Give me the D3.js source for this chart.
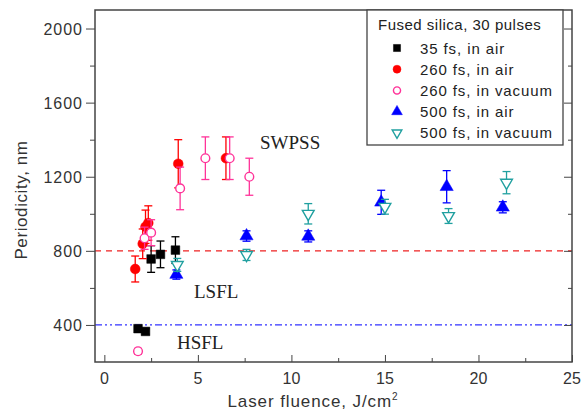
<!DOCTYPE html>
<html>
<head>
<meta charset="utf-8">
<script src="https://cdn.jsdelivr.net/npm/d3@7"></script>
<style>
    body { margin: 0; background: #fff; }
    text { font-family: 'Liberation Sans', Arial, sans-serif; }
    .region-label { font-family: 'Liberation Serif', 'Times New Roman', serif; font-size: 19px; fill: #222; }
</style>
</head>
<body>
<svg id="chart" width="581" height="415"></svg>
<script>
// data: [fluence J/cm2, periodicity nm, error nm]
let fs35Air = [[1.8, 380, 15], [2.2, 365, 15], [2.5, 756, 72], [3.0, 781, 72], [3.8, 804, 72]]
let fs260Air = [[1.65, 702, 70], [2.05, 838, 80], [2.2, 930, 90], [2.35, 950, 93], [3.95, 1270, 130], [6.5, 1300, 115]]
let fs260Vac = [[1.8, 258, 15], [2.15, 868, 60], [2.5, 898, 70], [4.05, 1137, 115], [5.4, 1300, 115], [6.7, 1300, 115], [7.75, 1200, 100]]
let fs500Air = [[3.85, 672, 25], [7.6, 880, 28], [10.9, 878, 30], [14.8, 1062, 65], [18.3, 1146, 87], [21.3, 1035, 30]]
let fs500Vac = [[3.9, 724, 35], [7.6, 778, 30], [10.9, 1000, 55], [15.0, 1038, 40], [18.4, 988, 40], [21.5, 1168, 60]]

let xTicks = [0, 5, 10, 15, 20, 25]
let yTicks = [400, 800, 1200, 1600, 2000]
let lsflLevel = 800
let hsflLevel = 400

let series = [
    {name: '35 fs, in air', data: fs35Air, shape: 'square', color: '#000000', fill: true},
    {name: '260 fs, in air', data: fs260Air, shape: 'circle', color: '#ff0000', fill: true},
    {name: '260 fs, in vacuum', data: fs260Vac, shape: 'circle', color: '#ff3399', fill: false},
    {name: '500 fs, in air', data: fs500Air, shape: 'triangle', color: '#0000ff', fill: true},
    {name: '500 fs, in vacuum', data: fs500Vac, shape: 'triangleDown', color: '#20a0a0', fill: false}
]

let svg = d3.select('#chart')
let plotL = 95, plotR = 572, plotT = 10, plotB = 362
let xScale = d3.scaleLinear().domain([-0.5, 25]).range([plotL, plotR])
let yScale = d3.scaleLinear().domain([200, 2100]).range([plotB, plotT])

function symbolPath(shape, size) {
    let type = {
        square: d3.symbolSquare,
        circle: d3.symbolCircle,
        triangle: d3.symbolTriangle,
        triangleDown: d3.symbolTriangle
    }[shape]
    return d3.symbol().type(type).size(size)()
}

// reference lines
svg.append('line')
    .attr('x1', plotL).attr('x2', plotR)
    .attr('y1', yScale(lsflLevel)).attr('y2', yScale(lsflLevel))
    .attr('stroke', '#ee2222').attr('stroke-width', 1.2)
    .attr('stroke-dasharray', '6,5')
svg.append('line')
    .attr('x1', plotL).attr('x2', plotR)
    .attr('y1', yScale(hsflLevel)).attr('y2', yScale(hsflLevel))
    .attr('stroke', '#3333ff').attr('stroke-width', 1.2)
    .attr('stroke-dasharray', '7,3,2,3,2,3')

// bottom axis, ticks inward
let xAxis = svg.append('g').attr('transform', 'translate(0,' + plotB + ')')
    .call(d3.axisBottom(xScale).tickValues(d3.range(0, 25.1, 2.5)).tickSize(-4).tickFormat(''))
xAxis.selectAll('.tick line').filter(d => d % 5 === 0).attr('y2', -7)
xAxis.select('.domain').remove()
xAxis.selectAll('line').attr('stroke', '#444')
xTicks.forEach(t => {
    svg.append('text').attr('x', xScale(t)).attr('y', 384)
        .attr('text-anchor', 'middle').attr('font-size', 16).attr('fill', '#333').text(t)
})

// left axis, ticks outward
let yAxis = svg.append('g').attr('transform', 'translate(' + plotL + ',0)')
    .call(d3.axisLeft(yScale).tickValues(d3.range(400, 2001, 200)).tickSize(5).tickFormat(''))
yAxis.selectAll('.tick line').filter(d => d % 400 === 0).attr('x2', -9)
yAxis.select('.domain').remove()
yAxis.selectAll('line').attr('stroke', '#444')
yTicks.forEach(t => {
    svg.append('text').attr('x', 83).attr('y', yScale(t) + 6)
        .attr('text-anchor', 'end').attr('font-size', 16).attr('letter-spacing', 1)
        .attr('fill', '#333').text(t)
})

// right axis, ticks inward
let yAxisR = svg.append('g').attr('transform', 'translate(' + plotR + ',0)')
    .call(d3.axisRight(yScale).tickValues(d3.range(400, 2001, 200)).tickSize(-4).tickFormat(''))
yAxisR.selectAll('.tick line').filter(d => d % 400 === 0).attr('x2', -8)
yAxisR.select('.domain').remove()
yAxisR.selectAll('line').attr('stroke', '#444')

// frame
svg.append('rect').attr('x', plotL).attr('y', plotT)
    .attr('width', plotR - plotL).attr('height', plotB - plotT)
    .attr('fill', 'none').attr('stroke', '#444').attr('stroke-width', 1.5)

// region labels
svg.append('text').attr('class', 'region-label').attr('x', 260).attr('y', 149).text('SWPSS')
svg.append('text').attr('class', 'region-label').attr('x', 194).attr('y', 298).text('LSFL')
svg.append('text').attr('class', 'region-label').attr('x', 177).attr('y', 349).text('HSFL')

// data points with error bars
series.forEach(s => {
    let g = svg.append('g')
    s.data.forEach(d => {
        let cx = xScale(d[0])
        let y1 = yScale(d[1] - d[2])
        let y2 = yScale(d[1] + d[2])
        g.append('line').attr('x1', cx).attr('x2', cx).attr('y1', y1).attr('y2', y2)
            .attr('stroke', s.color).attr('stroke-width', 1.3)
        g.append('line').attr('x1', cx - 4).attr('x2', cx + 4).attr('y1', y1).attr('y2', y1)
            .attr('stroke', s.color).attr('stroke-width', 1.3)
        g.append('line').attr('x1', cx - 4).attr('x2', cx + 4).attr('y1', y2).attr('y2', y2)
            .attr('stroke', s.color).attr('stroke-width', 1.3)
    })
    g.selectAll('path').data(s.data).enter().append('path')
        .attr('d', symbolPath(s.shape, s.fill ? 75 : 60))
        .attr('transform', d => 'translate(' + xScale(d[0]) + ',' + yScale(d[1]) + ')' + (s.shape === 'triangleDown' ? ' rotate(180)' : ''))
        .attr('fill', s.fill ? s.color : '#fff')
        .attr('stroke', s.color)
        .attr('stroke-width', s.fill ? 0.5 : 1.4)
})

// legend
let lg = svg.append('g')
lg.append('rect').attr('x', 367).attr('y', 10).attr('width', 196).attr('height', 135)
    .attr('fill', '#fff').attr('stroke', '#444').attr('stroke-width', 1.3)
lg.append('text').attr('x', 378).attr('y', 30).attr('font-size', 15).attr('letter-spacing', 0.5)
    .attr('fill', '#222').text('Fused silica, 30 pulses')
series.forEach((s, i) => {
    let y = 48 + i * 21.2
    lg.append('path')
        .attr('d', symbolPath(s.shape, s.fill ? 50 : 40))
        .attr('transform', 'translate(397,' + y + ')' + (s.shape === 'triangleDown' ? ' rotate(180)' : ''))
        .attr('fill', s.fill ? s.color : '#fff')
        .attr('stroke', s.color)
        .attr('stroke-width', s.fill ? 0.5 : 1.4)
    lg.append('text').attr('x', 420).attr('y', y + 5.5).attr('font-size', 15).attr('letter-spacing', 0.9)
        .attr('fill', '#222').text(s.name)
})

// axis titles
svg.append('text').attr('x', 313).attr('y', 407).attr('text-anchor', 'middle')
    .attr('font-size', 17).attr('letter-spacing', 0.9).attr('fill', '#333')
    .html('Laser fluence, J/cm<tspan dy="-7" font-size="10">2</tspan>')
svg.append('text').attr('transform', 'translate(27,200) rotate(-90)').attr('text-anchor', 'middle')
    .attr('font-size', 17).attr('letter-spacing', 0.6).attr('fill', '#333').text('Periodicity, nm')
</script>
</body>
</html>
